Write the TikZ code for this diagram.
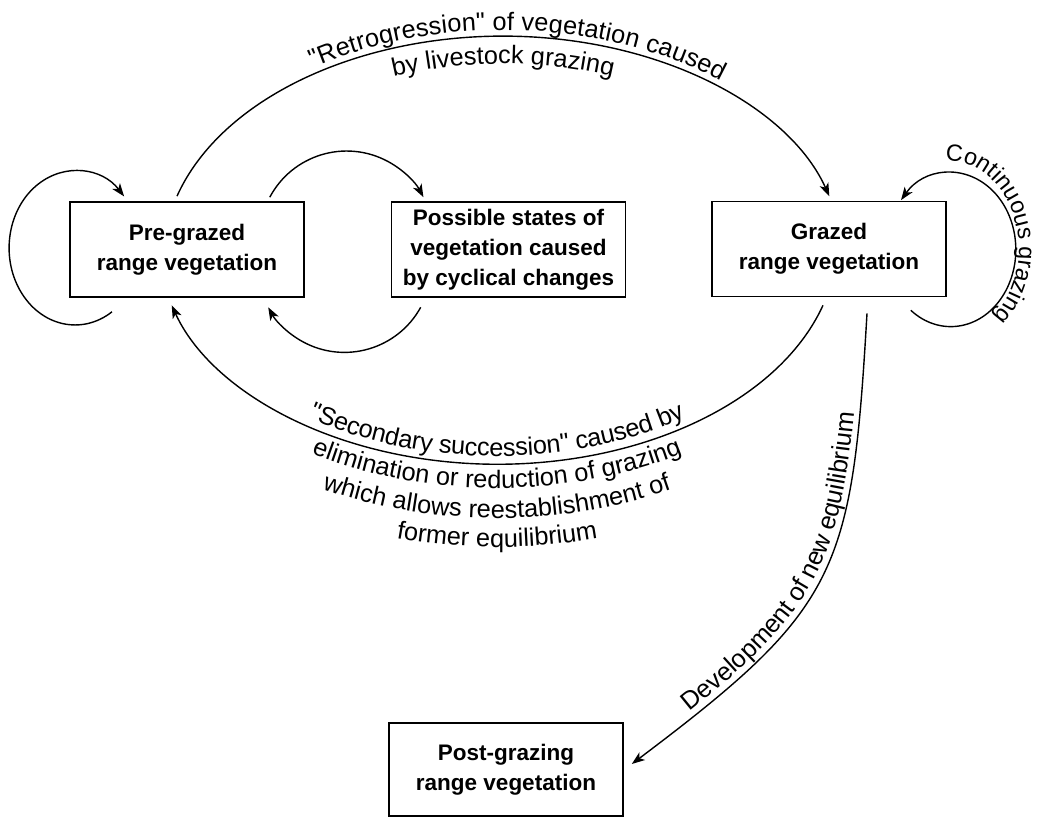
\documentclass[tikz,border=0pt]{standalone}
\usepackage{fontspec}
\setmainfont{Liberation Sans}
\newfontfamily\lblfam{Liberation Sans}
\usetikzlibrary{arrows.meta,decorations.text,calc}

\newcommand{\boxfont}{\bfseries\fontsize{22.5}{30}\selectfont}
\newcommand{\lblfont}{\lblfam\fontsize{25.3}{28}\selectfont}
\newcommand{\loopfont}{\lblfam\fontsize{23.5}{28}\selectfont}

\begin{document}
\begin{tikzpicture}[x=1pt,y=1pt,
  state/.style={draw,line width=1.6pt,minimum width=234pt,minimum height=95pt,
    inner sep=0pt,align=center,font=\boxfont},
  conn/.style={line width=1.4pt,-{Stealth[length=13pt,width=9.5pt,inset=3.5pt]}},
  along/.style={decorate,decoration={text along path,text={|\lblfont|#1}}},
]
\useasboundingbox (0,0) rectangle (1037,817);

% vegetation states
\node[state] (pre)  at (187,567.5) {Pre-grazed\\range vegetation};
\node[state] (cyc)  at (508.5,567.5) {Possible states of\\vegetation caused\\by cyclical changes};
\node[state] (grz)  at (829,568) {Grazed\\range vegetation};
\node[state,minimum height=93pt] (post) at (506,47.5) {Post-grazing\\range vegetation};

% retrogression: pre-grazed -> grazed
\coordinate (r0) at ($(pre.north)+(-10,5)$);
\draw[conn] (r0) arc[start angle=163.6,end angle=16.4,x radius=340,y radius=223];
\path[along={"Retrogression" of vegetation caused},
      decoration={text align={center,left indent=30pt},raise=6pt}]
  (r0) arc[start angle=163.6,end angle=16.4,x radius=340,y radius=223];
\path[along={by livestock grazing},decoration={text align=center}]
  ([shift={(503,557)}]160:313 and 196) arc[start angle=160,end angle=20,x radius=313,y radius=196];

% self-loop on the pre-grazed state
\coordinate (l0) at ($(pre.south)+(-75,-14)$);
\draw[conn] (l0) arc[start angle=-56,end angle=-318,x radius=66,y radius=77];

% cyclical changes, both ways
\coordinate (c0) at ($(pre.north east)+(-35,4)$);
\draw[conn] (c0) arc[start angle=152,end angle=28,radius=87];
\coordinate (c1) at ($(cyc.south west)+(30,-9.5)$);
\draw[conn] (c1) arc[start angle=-28.8,end angle=-151.2,radius=87];

% continuous grazing loop
\coordinate (g0) at ($(grz.south east)+(-36,-13)$);
\draw[conn] (g0) arc[start angle=232,end angle=500,x radius=65,y radius=77];
\path[decorate,decoration={text along path,text={|\loopfont|Continuous grazing},text align=left}]
  ([shift={(949,568)}]93:70 and 88) arc[start angle=93,end angle=-90,x radius=70,y radius=88];

% secondary succession: grazed -> pre-grazed
\coordinate (s0) at ($(grz.south)+(-6,-8)$);
\draw[conn] (s0) arc[start angle=-16.7,end angle=-163.3,x radius=340,y radius=223];
\path[along={"Secondary succession" caused by},decoration={text align=center,raise=8pt}]
  ([shift={(497,576)}]-163.3:340 and 223) arc[start angle=-163.3,end angle=-16.7,x radius=340,y radius=223];
\path[along={elimination or reduction of grazing},decoration={text align=center}]
  ([shift={(497,576)}]200:364 and 247) arc[start angle=200,end angle=340,x radius=364,y radius=247];
\path[along={which allows reestablishment of},decoration={text align=center}]
  ([shift={(497,576)}]200:394 and 277) arc[start angle=200,end angle=340,x radius=394,y radius=277];
\path[along={former equilibrium},decoration={text align=center}]
  ([shift={(497,576)}]200:423 and 306) arc[start angle=200,end angle=340,x radius=423,y radius=306];

% new equilibrium: grazed -> post-grazing
\coordinate (d0) at ($(grz.south)+(38,-16)$);
\coordinate (d1) at ($(post.east)+(8,5.5)$);
\draw[conn] (d0) .. controls (852,244) and (839,209) .. (d1);
\path[along={Development of new equilibrium},
      decoration={text align={left,left indent=78pt},raise=6pt}]
  (d1) .. controls (839,209) and (852,244) .. (d0);
\end{tikzpicture}
\end{document}
